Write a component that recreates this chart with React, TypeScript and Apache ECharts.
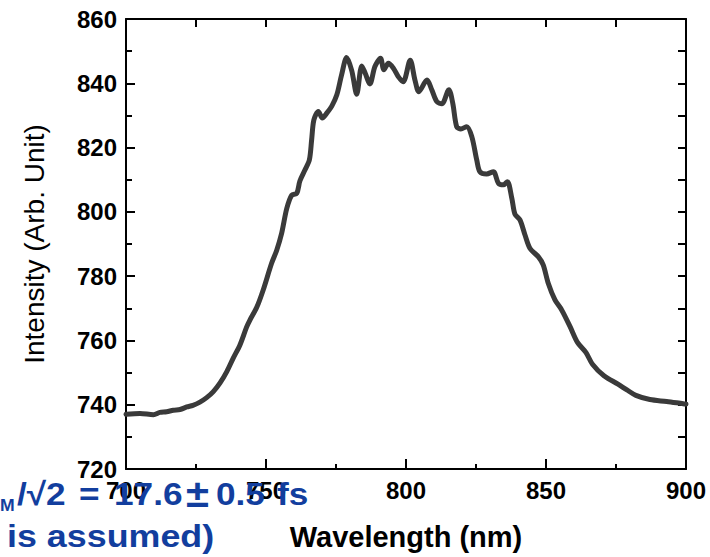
import React, { useEffect, useRef } from "react";
import * as echarts from "echarts";

// Measured spectrum: wavelength (nm) and intensity (arb. unit)
const wavelength = [
  700.0, 705.0, 709.8, 712.1, 714.5, 716.9, 719.3, 721.7, 723.9, 726.4,
  728.8, 731.1, 733.6, 736.0, 738.3, 740.7, 743.1, 744.3, 746.7, 749.0,
  752.0, 753.8, 755.6, 757.4, 759.2, 761.0, 762.1, 763.9, 765.5, 766.3,
  767.1, 768.7, 770.1, 771.7, 773.5, 775.3, 777.0, 778.8, 780.6, 782.4,
  784.2, 785.4, 787.1, 788.9, 790.9, 792.1, 793.7, 795.5, 797.3, 799.0,
  801.5, 803.2, 804.6, 807.5, 809.2, 811.0, 812.8, 815.3, 816.7, 818.1,
  819.6, 821.7, 823.5, 825.3, 826.4, 828.8, 831.2, 833.0, 834.8, 836.2,
  837.8, 838.9, 840.7, 842.5, 844.3, 847.3, 849.0, 850.8, 853.2, 855.6,
  858.6, 861.3, 864.3, 866.6, 870.7, 875.7, 878.9, 882.1, 887.1, 893.1,
  899.0, 900.0,
];
const intensity = [
  737.0, 737.3, 736.9, 737.6, 737.8, 738.3, 738.5, 739.3, 739.8, 740.8,
  742.2, 744.0, 746.8, 750.3, 754.5, 758.6, 764.2, 766.4, 770.3, 775.7,
  784.0, 788.0, 793.4, 801.0, 805.2, 805.8, 809.6, 813.0, 816.2, 822.4,
  828.6, 831.2, 829.2, 830.7, 832.9, 836.4, 842.6, 848.0, 844.0, 836.6,
  845.4, 843.2, 839.8, 845.2, 847.8, 844.2, 846.2, 844.7, 842.0, 840.5,
  847.2, 841.0, 837.4, 841.0, 838.0, 834.3, 833.6, 838.0, 833.8, 826.5,
  825.8, 826.5, 823.4, 816.0, 812.5, 811.8, 812.5, 808.9, 808.4, 809.4,
  804.2, 799.3, 797.5, 792.8, 788.6, 786.0, 783.5, 777.8, 772.6, 769.5,
  764.3, 759.3, 756.2, 752.6, 749.0, 746.4, 744.6, 742.9, 741.6, 741.0,
  740.3, 740.2,
];

const xRange = [700, 900];
const yRange = [720, 860];
const xLabelStep = 50;
const yLabelStep = 20;

const xTitle = "Wavelength (nm)";
const yTitle = "Intensity (Arb. Unit)";

// Overlaid annotation pieces (pulse-width note)
const noteSub = "M";
const notePieces = [
  { text: "/√2", x: 17, size: 32 },
  { text: "=", x: 79, size: 32 },
  { text: "17.6", x: 114, size: 32 },
  { text: "±", x: 186, size: 38 },
  { text: "0.5", x: 216, size: 32 },
  { text: "fs", x: 277, size: 32 },
];
const noteLine2 = "is assumed)";

const FONT = "'Liberation Sans', Arial, Helvetica, sans-serif";
const BLUE = "#123e9e";

export default function App() {
  const ref = useRef<HTMLDivElement>(null);

  useEffect(() => {
    if (!ref.current) return;
    document.body.style.margin = "0";
    const chart = echarts.init(ref.current, undefined, { renderer: "svg" });

    const axisLine = { show: true, lineStyle: { color: "#000", width: 2 } };
    const tickLabel = {
      color: "#000",
      fontFamily: FONT,
      fontWeight: "bold" as const,
      fontSize: 24,
    };

    const points = wavelength.map((w, i) => [w, intensity[i]]);

    const graphics: any[] = [
      {
        type: "text",
        x: 0,
        y: 506,
        z: 100,
        scaleX: 1.1,
        style: {
          text: noteSub,
          fill: BLUE,
          font: `bold 16px ${FONT}`,
          verticalAlign: "middle",
        },
      },
      ...notePieces.map((p) => ({
        type: "text",
        x: p.x,
        y: 494,
        z: 100,
        scaleX: 1.1,
        style: {
          text: p.text,
          fill: BLUE,
          font: `bold ${p.size}px ${FONT}`,
          verticalAlign: "middle",
        },
      })),
      {
        type: "text",
        x: 7,
        y: 536,
        z: 100,
        scaleX: 1.12,
        style: {
          text: noteLine2,
          fill: BLUE,
          font: `bold 32px ${FONT}`,
          verticalAlign: "middle",
        },
      },
    ];

    chart.setOption({
      animation: false,
      backgroundColor: "#fff",
      grid: { left: 126, right: 24, top: 19, bottom: 88, containLabel: false },
      xAxis: [
        {
          type: "value",
          position: "bottom",
          min: xRange[0],
          max: xRange[1],
          interval: xLabelStep,
          axisLine,
          axisTick: { show: true, inside: true, length: 10, lineStyle: { color: "#000", width: 2 } },
          minorTick: { show: true, splitNumber: 2, length: 5, lineStyle: { color: "#000", width: 2 } },
          axisLabel: { ...tickLabel, margin: 9 },
          splitLine: { show: false },
          name: xTitle,
          nameLocation: "middle",
          nameGap: 53,
          nameTextStyle: {
            color: "#000",
            fontFamily: FONT,
            fontWeight: "bold",
            fontSize: 29,
          },
        },
        {
          type: "value",
          position: "top",
          min: xRange[0],
          max: xRange[1],
          interval: xLabelStep / 2,
          axisLine,
          axisTick: { show: true, inside: true, length: 8, lineStyle: { color: "#000", width: 2 } },
          axisLabel: { show: false },
          splitLine: { show: false },
        },
      ],
      yAxis: [
        {
          type: "value",
          position: "left",
          min: yRange[0],
          max: yRange[1],
          interval: yLabelStep,
          axisLine,
          axisTick: { show: true, inside: true, length: 9, lineStyle: { color: "#000", width: 2 } },
          minorTick: { show: true, splitNumber: 2, length: 6, lineStyle: { color: "#000", width: 2 } },
          axisLabel: { ...tickLabel, margin: 9 },
          splitLine: { show: false },
          name: yTitle,
          nameLocation: "middle",
          nameRotate: 90,
          nameGap: 78,
          nameTextStyle: {
            color: "#000",
            fontFamily: FONT,
            fontWeight: "normal",
            fontSize: 28,
          },
        },
        {
          type: "value",
          position: "right",
          min: yRange[0],
          max: yRange[1],
          interval: yLabelStep / 2,
          axisLine,
          axisTick: { show: true, inside: true, length: 8, lineStyle: { color: "#000", width: 2 } },
          axisLabel: { show: false },
          splitLine: { show: false },
        },
      ],
      series: [
        {
          type: "line",
          data: points,
          xAxisIndex: 0,
          yAxisIndex: 0,
          showSymbol: false,
          smooth: 0.3,
          lineStyle: { color: "#3a3a3a", width: 5, join: "round", cap: "round" },
          clip: true,
        },
      ],
      graphic: graphics,
    });

    return () => chart.dispose();
  }, []);

  return <div ref={ref} style={{ width: 710, height: 557 }} />;
}
